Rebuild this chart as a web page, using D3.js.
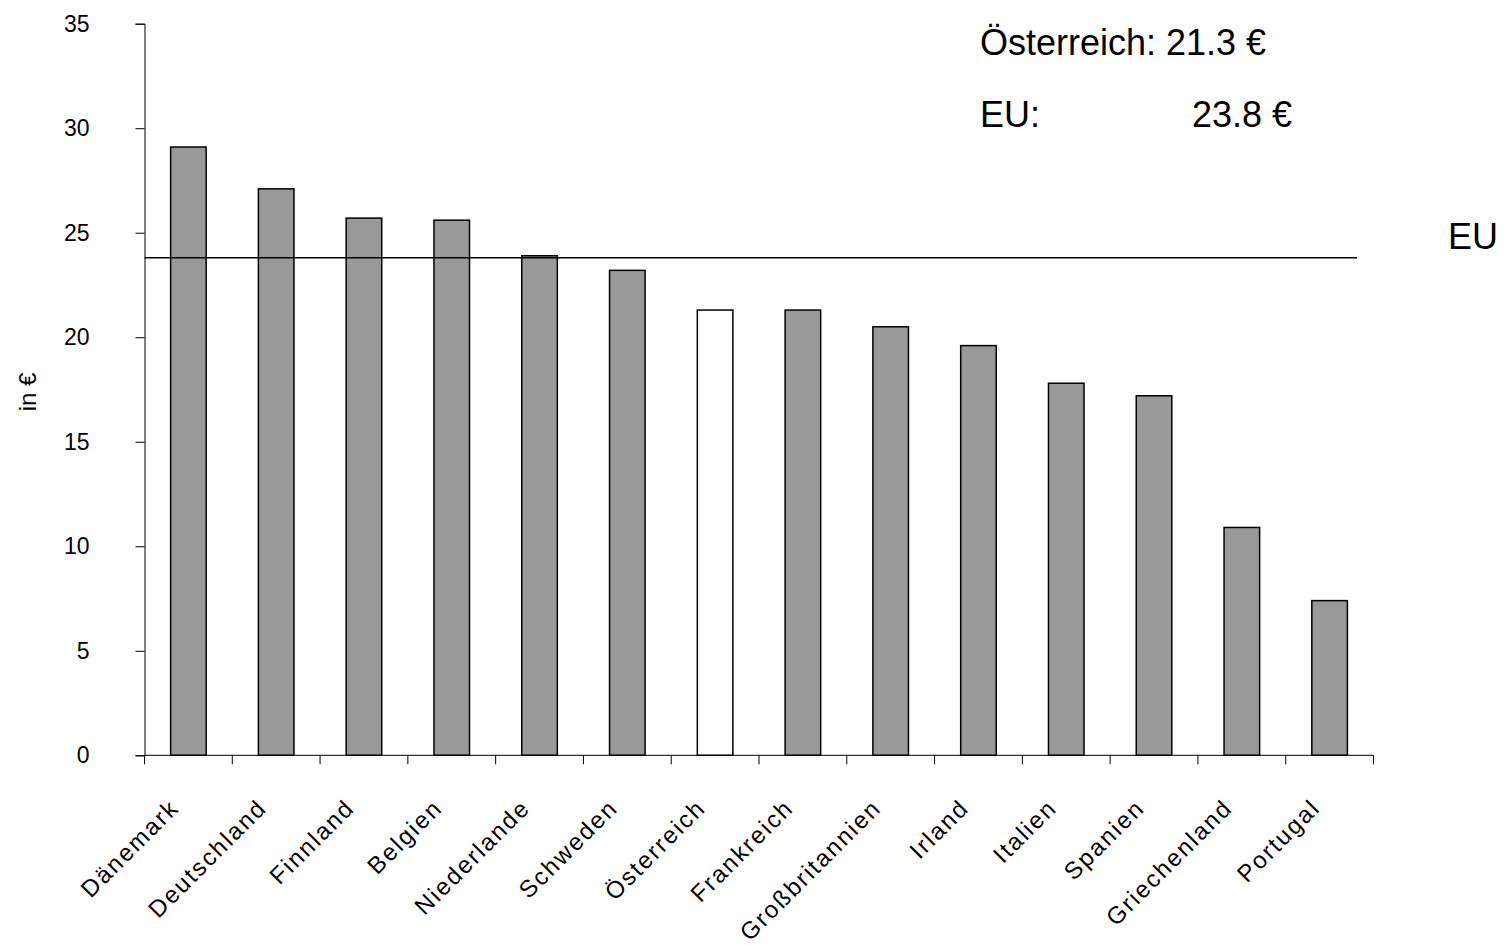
<!DOCTYPE html>
<html>
<head>
<meta charset="utf-8">
<script src="https://cdn.jsdelivr.net/npm/d3@7"></script>
<style>
  html, body { margin: 0; padding: 0; background: #fff; }
  svg { display: block; font-family: "Liberation Sans", Arial, sans-serif; }
</style>
</head>
<body>
<svg id="chart" width="1507" height="945"></svg>
<script>
const categories = ["Dänemark","Deutschland","Finnland","Belgien","Niederlande","Schweden","Österreich","Frankreich","Großbritannien","Irland","Italien","Spanien","Griechenland","Portugal"];
const values = [29.1, 27.1, 25.7, 25.6, 23.9, 23.2, 21.3, 21.3, 20.5, 19.6, 17.8, 17.2, 10.9, 7.4];
const highlight = "Österreich";
const euValue = 23.8;
const austriaValue = 21.3;
const yTicks = [0, 5, 10, 15, 20, 25, 30, 35];
const yLabel = "in €";

(function () {
const svg = d3.select("#chart");
const pLeft = 144.5, pRight = 1373.5, pTop = 23.7, pBottom = 755.3;

const x = d3.scaleBand().domain(categories).range([pLeft, pRight])
  .paddingInner(0.595).paddingOuter(0.2975);
const y = d3.scaleLinear().domain([0, 35]).range([pBottom, pTop]);

// bars
svg.append("g").selectAll("rect").data(categories).join("rect")
  .attr("x", d => x(d))
  .attr("y", (d, i) => y(values[i]))
  .attr("width", x.bandwidth())
  .attr("height", (d, i) => y(0) - y(values[i]))
  .attr("fill", d => d === highlight ? "#ffffff" : "#999999")
  .attr("stroke", "#000")
  .attr("stroke-width", 1.5);

// EU line
svg.append("line")
  .attr("x1", pLeft).attr("x2", 1357)
  .attr("y1", y(euValue)).attr("y2", y(euValue))
  .attr("stroke", "#000").attr("stroke-width", 1.5);

// y axis
const yAxis = svg.append("g").attr("transform", `translate(${pLeft},0)`)
  .call(d3.axisLeft(y).tickValues(yTicks).tickSize(9).tickPadding(46).tickFormat(d3.format("d")));
yAxis.select(".domain").attr("stroke", "#000").attr("stroke-width", 1);
yAxis.selectAll(".tick line").attr("stroke", "#000");
yAxis.selectAll(".tick text").attr("font-size", 23).attr("fill", "#000")
  .attr("font-family", "Liberation Sans, Arial, sans-serif");

// x axis baseline
svg.append("line").attr("x1", pLeft).attr("x2", pRight)
  .attr("y1", y(0)).attr("y2", y(0)).attr("stroke", "#000").attr("stroke-width", 1);

// x boundary ticks
const step = x.step();
const bounds = categories.map(d => x(d) - step * x.paddingInner() / 2).concat([pRight]);
svg.append("g").selectAll("line").data(bounds).join("line")
  .attr("x1", d => d).attr("x2", d => d)
  .attr("y1", y(0)).attr("y2", y(0) + 9)
  .attr("stroke", "#000").attr("stroke-width", 1);

// category labels
svg.append("g").selectAll("text").data(categories).join("text")
  .attr("transform", d => `translate(${x(d) + x.bandwidth() / 2 - 8},${y(0) + 54}) rotate(-45)`)
  .attr("text-anchor", "end")
  .attr("font-size", 24)
  .attr("letter-spacing", "2px")
  .attr("fill", "#000")
  .text(d => d);

// y label
svg.append("text")
  .attr("transform", `translate(36,392) rotate(-90)`)
  .attr("text-anchor", "middle")
  .attr("font-size", 24)
  .attr("fill", "#000")
  .text(yLabel);

// annotations
svg.append("text").attr("x", 980).attr("y", 55).attr("font-size", 36).attr("fill", "#000")
  .text(`Österreich: ${austriaValue.toFixed(1)} €`);
svg.append("text").attr("x", 980).attr("y", 127).attr("font-size", 36).attr("fill", "#000")
  .text("EU:");
svg.append("text").attr("x", 1192).attr("y", 127).attr("font-size", 36).attr("fill", "#000")
  .text(`${euValue.toFixed(1)} €`);
svg.append("text").attr("x", 1448).attr("y", 249).attr("font-size", 36).attr("fill", "#000")
  .text("EU");
})();
</script>
</body>
</html>
